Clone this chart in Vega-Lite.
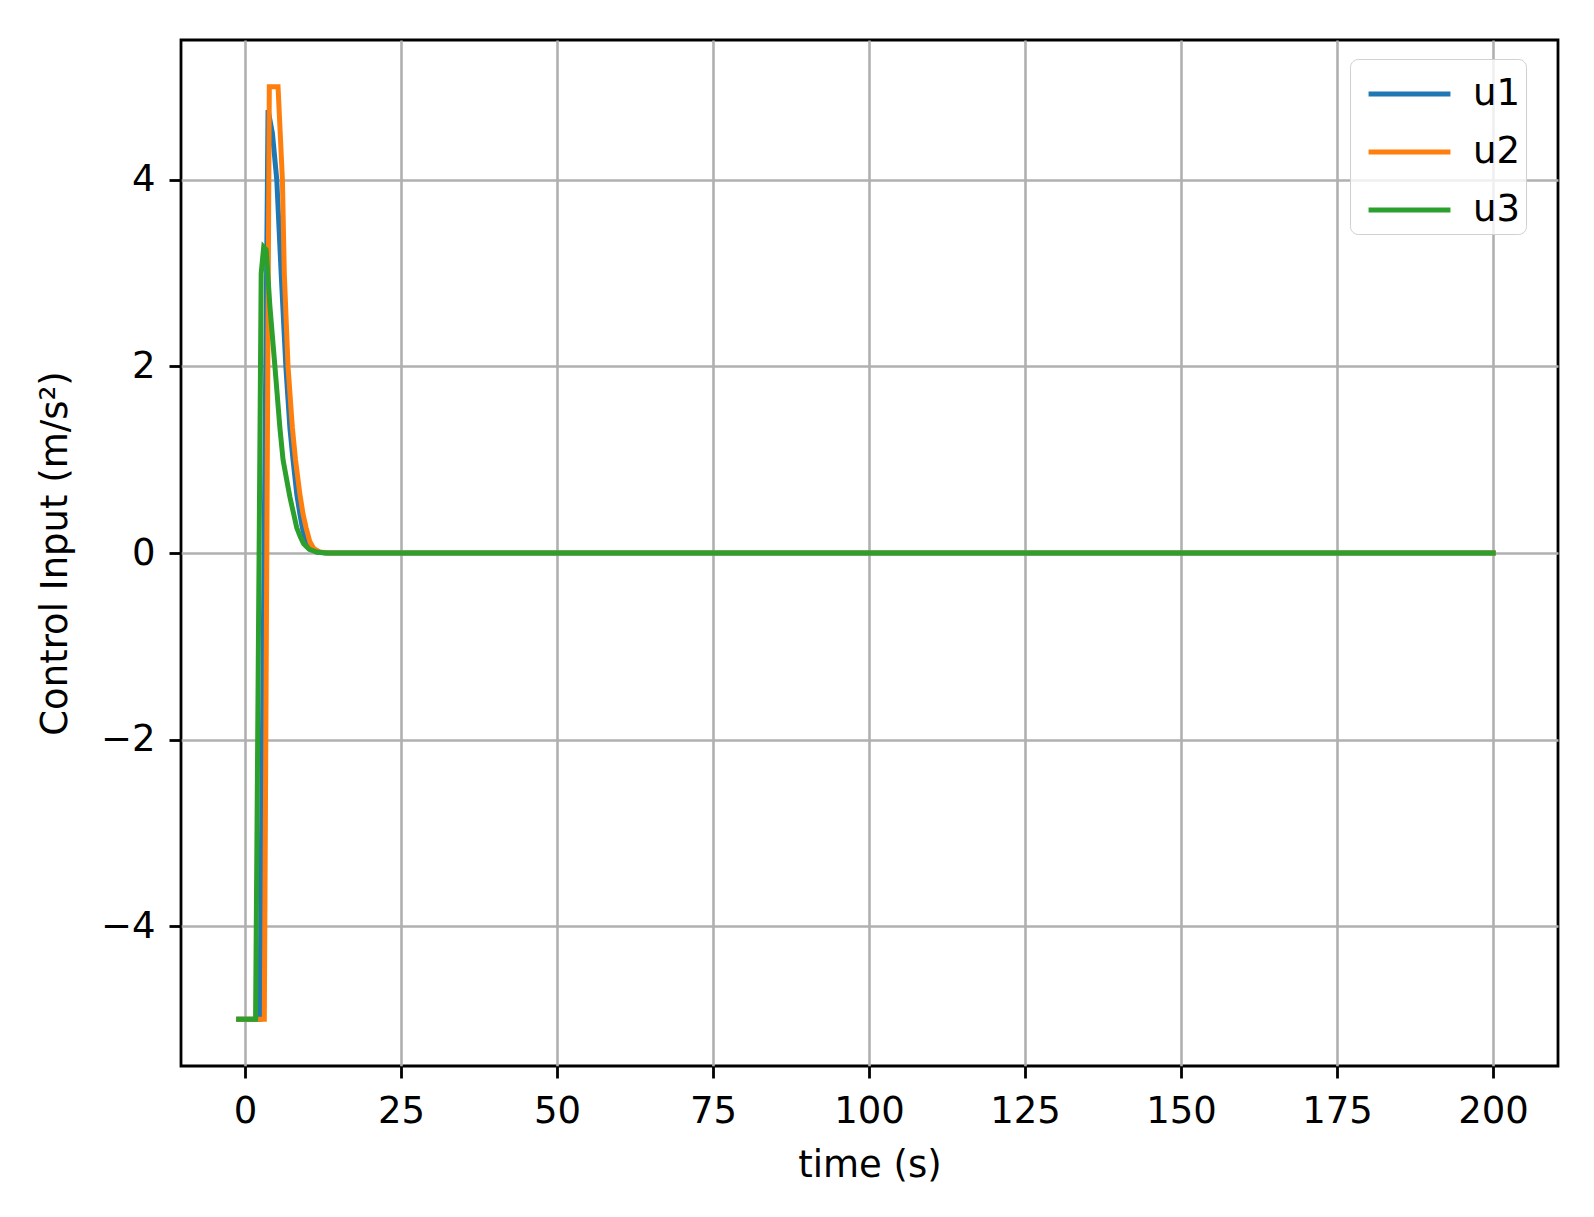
{
  "$schema": "https://vega.github.io/schema/vega-lite/v6.json",
  "width": 1377,
  "height": 1026,
  "autosize": {"type": "none"},
  "padding": {"left": 181, "top": 40, "right": 36, "bottom": 151},
  "background": "white",
  "config": {
    "font": "DejaVu Sans",
    "view": {"stroke": "black", "strokeWidth": 2.8},
    "axis": {
      "domain": false,
      "grid": true,
      "gridColor": "#b0b0b0",
      "gridWidth": 2.6,
      "gridOpacity": 1,
      "ticks": true,
      "tickColor": "black",
      "tickWidth": 2.8,
      "tickSize": 12,
      "labelFont": "DejaVu Sans",
      "labelFontSize": 37,
      "labelColor": "black",
      "labelPadding": 15,
      "titleFont": "DejaVu Sans",
      "titleFontSize": 37,
      "titleFontWeight": "normal",
      "titleColor": "black"
    }
  },
  "data": {
    "values": [
      {"t": -1, "u": -5, "s": "u1"},
      {"t": 2.4, "u": -5, "s": "u1"},
      {"t": 3.7, "u": 4.75, "s": "u1"},
      {"t": 4.4, "u": 4.5, "s": "u1"},
      {"t": 5.1, "u": 4.0, "s": "u1"},
      {"t": 5.8, "u": 3.0, "s": "u1"},
      {"t": 6.55, "u": 2.0, "s": "u1"},
      {"t": 7.2, "u": 1.34, "s": "u1"},
      {"t": 7.7, "u": 1.0, "s": "u1"},
      {"t": 8.3, "u": 0.63, "s": "u1"},
      {"t": 8.8, "u": 0.42, "s": "u1"},
      {"t": 9.2, "u": 0.27, "s": "u1"},
      {"t": 9.8, "u": 0.12, "s": "u1"},
      {"t": 10.5, "u": 0.05, "s": "u1"},
      {"t": 11.5, "u": 0.01, "s": "u1"},
      {"t": 13, "u": 0, "s": "u1"},
      {"t": 200, "u": 0, "s": "u1"},
      {"t": -1, "u": -5, "s": "u2"},
      {"t": 3.1, "u": -5, "s": "u2"},
      {"t": 3.9, "u": 5.0, "s": "u2"},
      {"t": 5.3, "u": 5.0, "s": "u2"},
      {"t": 6.0, "u": 4.0, "s": "u2"},
      {"t": 6.3, "u": 3.0, "s": "u2"},
      {"t": 6.9, "u": 2.0, "s": "u2"},
      {"t": 7.6, "u": 1.34, "s": "u2"},
      {"t": 8.1, "u": 1.0, "s": "u2"},
      {"t": 8.8, "u": 0.63, "s": "u2"},
      {"t": 9.3, "u": 0.42, "s": "u2"},
      {"t": 9.8, "u": 0.27, "s": "u2"},
      {"t": 10.4, "u": 0.12, "s": "u2"},
      {"t": 11, "u": 0.05, "s": "u2"},
      {"t": 12, "u": 0.01, "s": "u2"},
      {"t": 13.5, "u": 0, "s": "u2"},
      {"t": 200, "u": 0, "s": "u2"},
      {"t": -1, "u": -5, "s": "u3"},
      {"t": 1.7, "u": -5, "s": "u3"},
      {"t": 2.6, "u": 3.0, "s": "u3"},
      {"t": 3.0, "u": 3.28, "s": "u3"},
      {"t": 3.4, "u": 3.25, "s": "u3"},
      {"t": 4.0, "u": 2.64, "s": "u3"},
      {"t": 4.8, "u": 2.0, "s": "u3"},
      {"t": 5.6, "u": 1.34, "s": "u3"},
      {"t": 6.1, "u": 1.0, "s": "u3"},
      {"t": 6.7, "u": 0.78, "s": "u3"},
      {"t": 7.2, "u": 0.6, "s": "u3"},
      {"t": 7.8, "u": 0.42, "s": "u3"},
      {"t": 8.3, "u": 0.27, "s": "u3"},
      {"t": 8.9, "u": 0.17, "s": "u3"},
      {"t": 9.4, "u": 0.1, "s": "u3"},
      {"t": 10.3, "u": 0.04, "s": "u3"},
      {"t": 11.5, "u": 0.01, "s": "u3"},
      {"t": 13, "u": 0, "s": "u3"},
      {"t": 200, "u": 0, "s": "u3"}
    ]
  },
  "mark": {"type": "line", "strokeWidth": 5, "strokeCap": "square", "clip": true},
  "encoding": {
    "x": {
      "field": "t",
      "type": "quantitative",
      "title": "time (s)",
      "scale": {"domain": [-10.25, 210.4], "nice": false, "zero": false},
      "axis": {"values": [0, 25, 50, 75, 100, 125, 150, 175, 200], "titlePadding": 18}
    },
    "y": {
      "field": "u",
      "type": "quantitative",
      "title": "Control Input (m/s²)",
      "scale": {"domain": [-5.5, 5.5], "nice": false, "zero": false},
      "axis": {"values": [-4, -2, 0, 2, 4], "titlePadding": 26, "labelPadding": 14}
    },
    "color": {
      "field": "s",
      "type": "nominal",
      "title": null,
      "scale": {"domain": ["u1", "u2", "u3"], "range": ["#1f77b4", "#ff7f0e", "#2ca02c"]},
      "legend": {
        "orient": "none",
        "legendX": 1169,
        "legendY": 19,
        "symbolType": "M-0.62,0H2.47",
        "symbolSize": 2809,
        "symbolStrokeWidth": 5,
        "labelFontSize": 37,
        "labelFont": "DejaVu Sans",
        "labelColor": "black",
        "labelOffset": 59,
        "labelExpr": "datum.label + '\u00a0\u00a0\u00a0'",
        "rowPadding": 11,
        "padding": 6,
        "fillColor": "rgba(255,255,255,0.8)",
        "strokeColor": "#d0d0d0",
        "cornerRadius": 8
      }
    }
  }
}
